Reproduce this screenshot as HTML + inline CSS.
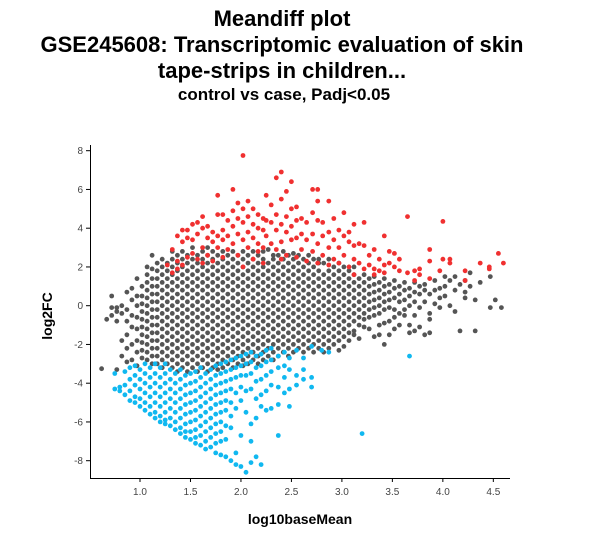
<!DOCTYPE html>
<html><head><meta charset="utf-8"><style>
body{margin:0;background:#fff;width:594px;height:539px;overflow:hidden}
svg{display:block}
.t{font-family:"Liberation Sans",sans-serif;font-weight:bold;fill:#000;text-anchor:middle}
.tk{font-family:"Liberation Sans",sans-serif;font-size:10px;fill:#444}
</style></head><body>
<svg id="chart" width="594" height="539">
<text class="t" x="282" y="26" font-size="22">Meandiff plot</text>
<text class="t" x="282" y="52" font-size="22">GSE245608: Transcriptomic evaluation of skin</text>
<text class="t" x="282" y="78" font-size="22">tape-strips in children...</text>
<text class="t" x="284" y="100" font-size="17">control vs case, Padj&lt;0.05</text>
<text class="t" x="300" y="524" font-size="14">log10baseMean</text>
<text class="t" x="0" y="0" font-size="14" transform="translate(52,316) rotate(-90)">log2FC</text>
<g id="axes"></g>
<g id="pts"></g>
</svg>
<script>
const xTicks=[1.0,1.5,2.0,2.5,3.0,3.5,4.0,4.5];
const xTickLabels=["1.0","1.5","2.0","2.5","3.0","3.5","4.0","4.5"];
const yTicks=[8,6,4,2,0,-2,-4,-6,-8];
const yTickLabels=["8","6","4","2","0","-2","-4","-6","-8"];
// grey (not significant) columns: [x, [y...]]
const greyCols=[
[0.62,[-3.25]],[0.67,[-0.7]],[0.72,[0.5,-0.1,-0.5]],[0.77,[-0.1,-0.3,-0.8,-3.3]],
[0.82,[0.0,-0.4,-1.8,-2.6]],[0.87,[0.7,-0.2,-0.8,-1.5,-2.2,-2.9]],
[0.92,[0.9,0.3,-0.5,-1.1,-2.0,-2.8]],[0.97,[1.4,0.5,0,-0.6,-1.2,-1.8,-2.4,-3.1]],
[1.02,[1.0,0.5,0.1,-0.3,-0.7,-1.1,-1.5,-1.9,-2.3,-2.7]],
[1.07,[2.0,1.6,1.2,0.8,0.4,0,-0.4,-0.8,-1.2,-1.6,-2.0,-2.4,-2.8]],
[1.12,[2.6,1.9,1.4,1.0,0.6,0.2,-0.2,-0.6,-1.0,-1.4,-1.8,-2.2,-2.6,-3.0]],
[1.17,[2.2,1.8,1.4,1.0,0.6,0.2,-0.2,-0.6,-1.0,-1.4,-1.8,-2.2,-2.6,-3.0]],
[1.22,[2.4,2.0,1.6,1.2,0.8,0.4,0,-0.4,-0.8,-1.2,-1.6,-2.0,-2.4,-2.8,-3.2]],
[1.27,[2.2,1.8,1.4,1.0,0.6,0.2,-0.2,-0.6,-1.0,-1.4,-1.8,-2.2,-2.6,-3.0]],
[1.32,[2.8,2.4,2.0,1.6,1.2,0.8,0.4,0,-0.4,-0.8,-1.2,-1.6,-2.0,-2.4,-2.8,-3.2]],
[1.37,[2.6,2.2,1.8,1.4,1.0,0.6,0.2,-0.2,-0.6,-1.0,-1.4,-1.8,-2.2,-2.6,-3.0,-3.4]],
[1.42,[2.8,2.4,2.0,1.6,1.2,0.8,0.4,0,-0.4,-0.8,-1.2,-1.6,-2.0,-2.4,-2.8,-3.2]],
[1.47,[2.6,2.2,1.8,1.4,1.0,0.6,0.2,-0.2,-0.6,-1.0,-1.4,-1.8,-2.2,-2.6,-3.0,-3.4]],
[1.52,[3.0,2.4,2.0,1.6,1.2,0.8,0.4,0,-0.4,-0.8,-1.2,-1.6,-2.0,-2.4,-2.8,-3.2]],
[1.57,[2.6,2.2,1.8,1.4,1.0,0.6,0.2,-0.2,-0.6,-1.0,-1.4,-1.8,-2.2,-2.6,-3.0,-3.4]],
[1.62,[2.8,2.4,2.0,1.6,1.2,0.8,0.4,0,-0.4,-0.8,-1.2,-1.6,-2.0,-2.4,-2.8,-3.2]],
[1.67,[3.0,2.6,2.2,1.8,1.4,1.0,0.6,0.2,-0.2,-0.6,-1.0,-1.4,-1.8,-2.2,-2.6,-3.0,-3.4]],
[1.72,[2.8,2.4,2.0,1.6,1.2,0.8,0.4,0,-0.4,-0.8,-1.2,-1.6,-2.0,-2.4,-2.8,-3.2]],
[1.77,[2.6,2.2,1.8,1.4,1.0,0.6,0.2,-0.2,-0.6,-1.0,-1.4,-1.8,-2.2,-2.6,-3.0,-3.3]],
[1.82,[2.8,2.4,2.0,1.6,1.2,0.8,0.4,0,-0.4,-0.8,-1.2,-1.6,-2.0,-2.4,-2.8,-3.2]],
[1.87,[2.6,2.2,1.8,1.4,1.0,0.6,0.2,-0.2,-0.6,-1.0,-1.4,-1.8,-2.2,-2.6,-3.0]],
[1.92,[2.8,2.4,2.0,1.6,1.2,0.8,0.4,0,-0.4,-0.8,-1.2,-1.6,-2.0,-2.4,-2.8,-3.2]],
[1.97,[2.6,2.2,1.8,1.4,1.0,0.6,0.2,-0.2,-0.6,-1.0,-1.4,-1.8,-2.2,-2.6,-3.0]],
[2.02,[2.8,2.4,2.0,1.6,1.2,0.8,0.4,0,-0.4,-0.8,-1.2,-1.6,-2.0,-2.4,-2.8,-3.1]],
[2.07,[2.6,2.2,1.8,1.4,1.0,0.6,0.2,-0.2,-0.6,-1.0,-1.4,-1.8,-2.2,-2.6,-3.0]],
[2.12,[2.8,2.4,2.0,1.6,1.2,0.8,0.4,0,-0.4,-0.8,-1.2,-1.6,-2.0,-2.4,-2.8]],
[2.17,[2.6,2.2,1.8,1.4,1.0,0.6,0.2,-0.2,-0.6,-1.0,-1.4,-1.8,-2.2,-2.6,-3.0]],
[2.22,[2.8,2.4,2.0,1.6,1.2,0.8,0.4,0,-0.4,-0.8,-1.2,-1.6,-2.0,-2.4,-2.8]],
[2.27,[2.9,2.2,1.8,1.4,1.0,0.6,0.2,-0.2,-0.6,-1.0,-1.4,-1.8,-2.2,-2.6]],
[2.32,[2.6,2.4,2.0,1.6,1.2,0.8,0.4,0,-0.4,-0.8,-1.2,-1.6,-2.0,-2.4,-2.8]],
[2.37,[2.6,2.2,1.8,1.4,1.0,0.6,0.2,-0.2,-0.6,-1.0,-1.4,-1.8,-2.2,-2.6]],
[2.42,[2.8,2.4,2.0,1.6,1.2,0.8,0.4,0,-0.4,-0.8,-1.2,-1.6,-2.0,-2.4]],
[2.47,[2.6,2.2,1.8,1.4,1.0,0.6,0.2,-0.2,-0.6,-1.0,-1.4,-1.8,-2.2,-2.6]],
[2.52,[2.7,2.4,2.0,1.6,1.2,0.8,0.4,0,-0.4,-0.8,-1.2,-1.6,-2.0,-2.4]],
[2.57,[2.6,2.2,1.8,1.4,1.0,0.6,0.2,-0.2,-0.6,-1.0,-1.4,-1.8,-2.2]],
[2.62,[2.4,2.0,1.6,1.2,0.8,0.4,0,-0.4,-0.8,-1.2,-1.6,-2.0,-2.4]],
[2.67,[2.6,2.2,1.8,1.4,1.0,0.6,0.2,-0.2,-0.6,-1.0,-1.4,-1.8,-2.2]],
[2.72,[2.4,2.0,1.6,1.2,0.8,0.4,0,-0.4,-0.8,-1.2,-1.6,-2.0,-2.4]],
[2.77,[2.4,2.2,1.8,1.4,1.0,0.6,0.2,-0.2,-0.6,-1.0,-1.4,-1.8,-2.2]],
[2.82,[2.2,1.6,1.2,0.8,0.4,0,-0.4,-0.8,-1.2,-1.6,-2.0,-2.4]],
[2.87,[2.4,1.8,1.4,1.0,0.6,0.2,-0.2,-0.6,-1.0,-1.4,-1.8,-2.2]],
[2.92,[2.0,1.6,1.2,0.8,0.4,0,-0.4,-0.8,-1.2,-1.6,-2.0]],
[2.97,[2.2,1.8,1.4,1.0,0.6,0.2,-0.2,-0.6,-1.0,-1.4,-1.8,-2.3]],
[3.02,[2.0,1.6,1.2,0.8,0.4,0,-0.4,-0.8,-1.2,-1.6,-2.1]],
[3.07,[1.8,1.4,1.0,0.6,0.2,-0.2,-0.6,-1.0,-1.4,-1.8]],
[3.12,[2.0,1.6,1.2,0.8,0.4,0,-0.4,-0.8,-1.3,-1.5]],
[3.17,[1.4,1.0,0.6,0.2,-0.2,-0.6,-1.0,-1.7]],
[3.22,[1.6,1.2,0.8,0.4,0,-0.4,-0.7,-1.1]],
[3.27,[1.4,1.0,0.6,0.2,-0.2,-0.6,-1.2]],
[3.32,[1.5,1.1,0.7,0.3,-0.1,-0.5,-1.6]],
[3.37,[1.2,0.8,0.4,0,-0.4,-1.0,-1.5]],
[3.42,[1.4,1.0,0.6,0.2,-0.2,-0.9,-2.0]],
[3.47,[1.1,0.7,0.3,-0.1,-0.8,-1.5]],
[3.52,[1.3,0.9,0.4,-0.2,-0.6,-1.2]],
[3.57,[1.0,0.6,0.2,-0.4,-1.0]],
[3.62,[1.2,0.8,0.3,-0.2,-0.5]],
[3.67,[0.9,0.5,0,-1.0,-1.4]],
[3.72,[1.2,0.7,0.2,-0.5,-1.3]],
[3.77,[1.0,0.6,-0.1,-1.1]],
[3.82,[1.1,0.8,0.2,-1.5]],
[3.87,[0.6,-0.4,-0.7,-1.4]],
[3.92,[1.3,0.8,0.1]],
[3.97,[0.9,0.4,-0.1]],
[4.02,[1.5,1.0,0.5]],
[4.07,[1.3,0]],
[4.12,[1.5,0.8,-0.3]],
[4.17,[1.1,-1.3]],
[4.22,[1.3,0.7,0.4]],
[4.27,[1.7,1.0]],
[4.32,[-1.3,0.3]],
[4.37,[1.2]],
[4.47,[1.5,-0.1]],
[4.52,[0.3]],
[4.58,[-0.1]]
];
// red (up-regulated) columns
const redCols=[
[1.27,[2.1]],[1.32,[2.9,1.7]],[1.37,[3.6,2.3,1.9]],[1.42,[3.9,3.3,2.1]],
[1.47,[3.9,3.5,2.5]],[1.52,[4.2,3.4,2.7]],[1.57,[4.3,3.7,2.4]],
[1.62,[4.6,4.0,3.0,2.2]],[1.67,[4.1,3.5,2.6]],[1.72,[3.8,3.3,2.3]],
[1.77,[5.7,4.7,3.6,3.0]],[1.82,[4.7,3.9,3.4,2.5]],[1.87,[4.4,3.6,2.9]],
[1.92,[6.0,4.9,4.1,3.2]],[1.97,[5.3,4.5,3.7,2.6]],[2.02,[7.75,5.0,4.3,3.4,2.0]],
[2.07,[5.4,4.6,3.8,3.0]],[2.12,[5.0,4.2,3.5,2.4]],[2.17,[4.7,4.0,3.2,2.8]],
[2.22,[4.5,3.9,3.0,2.2]],[2.25,[5.7,4.4,3.6]],[2.30,[5.2,4.3,3.2]],
[2.35,[6.6,4.7,3.9,2.9]],[2.40,[6.9,5.5,4.2,3.3,2.4]],[2.45,[5.9,4.6,3.8,2.6]],
[2.50,[6.4,5.0,4.1,3.4]],[2.55,[5.1,4.4,3.5,2.5]],[2.60,[4.5,3.7,2.9]],
[2.65,[4.3,3.4,2.3]],[2.71,[6.0,4.8,3.7,2.8]],[2.76,[6.0,5.4,4.4,3.2,2.2]],
[2.81,[4.3,3.6,2.6]],[2.87,[5.4,3.8,3.0,2.1]],[2.92,[4.5,3.4,2.4]],
[2.97,[3.9,3.0,2.2]],[3.02,[4.8,3.6,2.6]],[3.07,[3.8,3.3,2.0]],
[3.12,[4.2,3.1,2.4,1.6]],[3.17,[3.2,2.2]],[3.22,[4.3,3.1,1.9]],
[3.27,[2.6,2.1]],[3.32,[2.9,1.9,1.6]],[3.37,[2.4,1.8]],[3.42,[3.6,2.1,1.7]],
[3.47,[2.8,2.2]],[3.52,[2.7,2.0]],[3.57,[2.4,1.8]],[3.65,[4.6,1.7]],
[3.72,[1.3,1.8]],[3.77,[1.6,1.9]],[3.87,[2.9,1.4,2.3]],[3.97,[1.8]],
[4.0,[4.35,2.4]],[4.07,[2.2,2.4]],[4.22,[1.8,1.3]],[4.37,[2.2]],
[4.46,[2.0,1.9]],[4.55,[2.7]],[4.60,[2.2]]
];
// blue (down-regulated) columns
const blueCols=[
[0.75,[-3.5,-4.3]],[0.80,[-4.2,-4.4]],[0.85,[-3.4,-4.1,-4.6]],
[0.90,[-3.2,-3.8,-4.4,-4.9]],[0.95,[-3.1,-3.6,-4.1,-4.7,-5.0]],
[1.00,[-3.3,-3.8,-4.3,-4.8,-5.2]],[1.05,[-3.0,-3.5,-4.0,-4.5,-5.0,-5.4]],
[1.10,[-3.2,-3.7,-4.2,-4.7,-5.2,-5.6]],[1.15,[-3.0,-3.5,-4.0,-4.5,-5.0,-5.5,-5.8]],
[1.20,[-3.2,-3.7,-4.2,-4.7,-5.2,-5.7,-6.0]],[1.25,[-3.0,-3.5,-4.0,-4.5,-5.0,-5.5,-5.9,-6.1]],
[1.30,[-3.3,-3.8,-4.3,-4.8,-5.3,-5.8,-6.2]],[1.35,[-3.5,-4.0,-4.5,-5.0,-5.5,-6.0,-6.4]],
[1.40,[-3.3,-3.8,-4.3,-4.8,-5.3,-5.8,-6.3,-6.6]],[1.45,[-3.6,-4.1,-4.6,-5.1,-5.6,-6.1,-6.5,-6.8]],
[1.50,[-3.5,-4.0,-4.5,-5.0,-5.5,-6.0,-6.5,-6.9]],[1.55,[-3.4,-3.9,-4.4,-4.9,-5.4,-5.9,-6.4,-6.8,-7.1]],
[1.60,[-3.2,-3.7,-4.2,-4.7,-5.2,-5.7,-6.2,-6.7,-7.2]],[1.65,[-3.5,-4.0,-4.5,-5.0,-5.5,-6.0,-6.5,-7.0,-7.4]],
[1.70,[-3.3,-3.8,-4.3,-4.8,-5.3,-5.8,-6.3,-6.8,-7.3]],[1.75,[-3.1,-3.6,-4.1,-4.6,-5.1,-5.6,-6.1,-6.6,-7.1,-7.6]],
[1.80,[-3.0,-3.5,-4.0,-4.5,-5.0,-5.5,-6.0,-6.5,-7.0,-7.7]],[1.85,[-2.9,-3.4,-3.9,-4.4,-4.9,-5.4,-6.2,-6.9,-7.8]],
[1.90,[-2.8,-3.3,-3.8,-4.3,-5.0,-5.7,-6.3,-8.0]],[1.95,[-2.7,-3.2,-3.7,-4.5,-5.3,-7.6,-8.2]],
[2.00,[-2.6,-3.1,-3.6,-4.2,-4.9,-6.7,-8.3]],[2.05,[-2.5,-3.0,-3.6,-4.4,-5.5,-8.6]],
[2.10,[-2.4,-2.9,-3.5,-4.3,-6.1,-7.0,-8.1]],[2.15,[-2.6,-3.2,-3.9,-4.8,-5.8,-7.8]],
[2.20,[-2.5,-3.1,-3.8,-4.6,-5.2,-8.2]],[2.25,[-2.3,-2.9,-3.6,-4.4,-5.4]],
[2.30,[-2.2,-2.8,-3.4,-4.1,-5.3]],[2.37,[-2.6,-3.2,-4.2,-5.1,-6.7]],
[2.43,[-2.4,-3.1,-3.7,-4.5]],[2.48,[-2.7,-3.3,-4.3,-5.2]],[2.55,[-2.3,-3.6,-4.1]],
[2.62,[-2.7,-3.3,-3.8]],[2.70,[-2.1,-3.7,-4.2]],[2.80,[-2.3]],[2.87,[-2.4]],
[3.20,[-6.6]],[3.67,[-2.6]]
];

const svg=document.getElementById('chart');
const NS='http://www.w3.org/2000/svg';
const X0=140,XU=100.95,Y0=305.7,YU=19.375;
function xs(v){return X0+(v-1)*XU;}
function ys(v){return Y0-v*YU;}
const axes=document.getElementById('axes');
function mk(tag,attrs,parent){const e=document.createElementNS(NS,tag);for(const k in attrs)e.setAttribute(k,attrs[k]);parent.appendChild(e);return e;}
const ya=mk('line',{x1:90.5,y1:145,x2:90.5,y2:478,stroke:'#000','stroke-width':1},axes);


const xa=mk('line',{x1:90,y1:478.5,x2:510,y2:478.5,stroke:'#000','stroke-width':1},axes);


yTicks.forEach((v,i)=>{
  const y=ys(v);
  const l=mk('line',{x1:86,y1:y,x2:90,y2:y,stroke:'#000'},axes);
  
  
  const t=mk('text',{x:83,y:y+3.5,'text-anchor':'end',class:'tk'},axes);
  t.textContent=yTickLabels[i];
  
  
});
xTicks.forEach((v,i)=>{
  const x=xs(v);
  const l=mk('line',{x1:x,y1:478,x2:x,y2:482,stroke:'#000'},axes);
  
  
  const t=mk('text',{x:x,y:495,'text-anchor':'middle',class:'tk'},axes);
  t.textContent=xTickLabels[i];
  
  
});
const pts=document.getElementById('pts');
function draw(cols,color,name){
  cols.forEach(c=>{c[1].forEach(v=>{
    const p=mk('circle',{cx:xs(c[0]).toFixed(1),cy:ys(v).toFixed(1),r:2.4,fill:color},pts);
    
    
  });});
}
draw(greyCols,'#555555','point-not-significant');
draw(redCols,'#f03030','point-upregulated');
draw(blueCols,'#10b8f0','point-downregulated');
</script>
</body></html>
